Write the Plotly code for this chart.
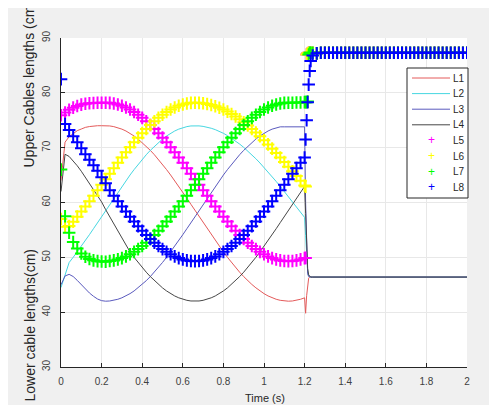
import plotly.graph_objects as go

# ---- time samples (s) ----
t_main = [0.00, 0.02, 0.04, 0.06, 0.08, 0.10, 0.12, 0.14, 0.16, 0.18,
          0.20, 0.22, 0.24, 0.26, 0.28, 0.30, 0.32, 0.34, 0.36, 0.38,
          0.40, 0.42, 0.44, 0.46, 0.48, 0.50, 0.52, 0.54, 0.56, 0.58,
          0.60, 0.62, 0.64, 0.66, 0.68, 0.70, 0.72, 0.74, 0.76, 0.78,
          0.80, 0.82, 0.84, 0.86, 0.88, 0.90, 0.92, 0.94, 0.96, 0.98,
          1.00, 1.02, 1.04, 1.06, 1.08, 1.10, 1.12, 1.14, 1.16, 1.18,
          1.20, 1.205, 1.21, 1.215, 1.22, 1.225, 1.23, 1.24]
t_hold = [1.26, 1.28, 1.30, 1.32, 1.34, 1.36, 1.38, 1.40, 1.42, 1.44,
          1.46, 1.48, 1.50, 1.52, 1.54, 1.56, 1.58, 1.60, 1.62, 1.64,
          1.66, 1.68, 1.70, 1.72, 1.74, 1.76, 1.78, 1.80, 1.82, 1.84,
          1.86, 1.88, 1.90, 1.92, 1.94, 1.96, 1.98, 2.00]

# ---- lower cables (cm), lines ----
L1 = [64.0, 71.0, 72.0, 72.6, 73.1, 73.4, 73.7, 73.85, 73.95, 74.0,
      74.0, 74.0, 73.96, 73.84, 73.65, 73.38, 73.04, 72.62, 72.13, 71.57,
      70.94, 70.26, 69.51, 68.71, 67.85, 66.95, 66.0, 65.01, 63.99, 62.94,
      61.87, 60.78, 59.67, 58.56, 57.44, 56.33, 55.22, 54.13, 53.06, 52.01,
      50.99, 50.0, 49.06, 48.15, 47.29, 46.49, 45.74, 45.06, 44.44, 43.87,
      43.38, 42.96, 42.62, 42.35, 42.16, 42.04, 42.0, 42.04, 42.16, 42.35,
      42.62, 39.8, 43.0, 45.5, 46.2, 46.4, 46.4, 46.4]
L2 = [44.5, 47.0, 49.05, 50.0, 50.99, 52.01, 53.06, 54.13, 55.22, 56.33,
      57.44, 58.56, 59.67, 60.78, 61.87, 62.94, 63.99, 65.01, 66.0, 66.95,
      67.85, 68.71, 69.51, 70.26, 70.94, 71.57, 72.13, 72.62, 73.04, 73.38,
      73.65, 73.84, 73.96, 74.0, 73.97, 73.88, 73.74, 73.54, 73.29, 72.98,
      72.62, 72.2, 71.73, 71.22, 70.66, 70.05, 69.4, 68.71, 67.98, 67.21,
      66.41, 65.58, 64.72, 63.84, 62.94, 62.03, 61.09, 60.15, 59.2, 58.24,
      57.28, 54.0, 50.5, 47.5, 46.6, 46.4, 46.4, 46.4]
L3 = [45.0, 46.6, 46.9, 46.5, 45.8, 45.0, 44.2, 43.5, 42.9, 42.4,
      42.1, 42.0, 42.04, 42.16, 42.35, 42.62, 42.96, 43.38, 43.87, 44.44,
      45.06, 45.74, 46.49, 47.29, 48.15, 49.06, 50.0, 50.99, 52.01, 53.06,
      54.13, 55.22, 56.33, 57.44, 58.56, 59.67, 60.78, 61.87, 62.94, 63.99,
      65.01, 66.0, 66.95, 67.85, 68.71, 69.51, 70.26, 70.94, 71.57, 72.13,
      72.62, 73.04, 73.38, 73.65, 73.8, 73.8, 73.8, 73.8, 73.8, 73.8,
      73.8, 60.0, 50.0, 47.0, 46.5, 46.4, 46.4, 46.4]
L4 = [62.0, 68.8, 68.4, 67.6, 66.7, 65.7, 64.6, 63.5, 62.4, 61.3,
      60.1, 58.7, 57.4, 56.1, 54.8, 53.4, 52.1, 50.99, 50.0, 49.05,
      48.15, 47.29, 46.49, 45.74, 45.06, 44.43, 43.87, 43.38, 42.96, 42.62,
      42.35, 42.16, 42.04, 42.0, 42.04, 42.16, 42.35, 42.62, 42.96, 43.38,
      43.87, 44.43, 45.06, 45.74, 46.49, 47.29, 48.15, 49.05, 50.0, 50.99,
      52.01, 53.06, 54.13, 55.22, 56.33, 57.44, 58.56, 59.67, 60.78, 61.87,
      62.94, 58.0, 52.0, 48.0, 46.8, 46.5, 46.4, 46.4]
lower_hold = [46.4, 46.4, 46.4, 46.4, 46.4, 46.4, 46.4, 46.4, 46.4, 46.4,
              46.4, 46.4, 46.4, 46.4, 46.4, 46.4, 46.4, 46.4, 46.4, 46.4,
              46.4, 46.4, 46.4, 46.4, 46.4, 46.4, 46.4, 46.4, 46.4, 46.4,
              46.4, 46.4, 46.4, 46.4, 46.4, 46.4, 46.4, 46.4]

# ---- upper cables (cm), '+' markers ----
L5 = [75.9, 76.4, 76.9, 77.3, 77.6, 77.85, 78.0, 78.1, 78.15, 78.2,
      78.2, 78.2, 78.17, 78.06, 77.88, 77.64, 77.33, 76.95, 76.51, 76.0,
      75.44, 74.82, 74.14, 73.42, 72.65, 71.83, 70.98, 70.09, 69.16, 68.22,
      67.25, 66.26, 65.26, 64.25, 63.25, 62.24, 61.24, 60.25, 59.28, 58.34,
      57.41, 56.52, 55.67, 54.85, 54.08, 53.36, 52.68, 52.06, 51.5, 51.0,
      50.55, 50.17, 49.86, 49.62, 49.44, 49.33, 49.3, 49.33, 49.44, 49.62,
      49.86, 49.9, 87.0, 87.2, 87.3, 87.3, 87.3, 87.3]
L6 = [57.0, 55.6, 55.7, 56.5, 57.42, 58.34, 59.28, 60.25, 61.24, 62.24,
      63.25, 64.25, 65.26, 66.26, 67.25, 68.22, 69.16, 70.09, 70.98, 71.83,
      72.65, 73.42, 74.14, 74.82, 75.44, 76.0, 76.51, 76.95, 77.33, 77.64,
      77.88, 78.06, 78.17, 78.2, 78.17, 78.1, 77.97, 77.79, 77.56, 77.28,
      76.95, 76.58, 76.15, 75.69, 75.18, 74.63, 74.04, 73.42, 72.76, 72.07,
      71.35, 70.6, 69.82, 69.03, 68.22, 67.39, 66.54, 65.69, 64.83, 63.97,
      63.1, 62.9, 87.0, 87.2, 87.3, 87.3, 87.3, 87.3]
L7 = [66.0, 57.5, 54.5, 52.8, 51.6, 50.7, 50.1, 49.7, 49.45, 49.3,
      49.25, 49.2, 49.33, 49.44, 49.62, 49.86, 50.17, 50.55, 51.0, 51.5,
      52.06, 52.68, 53.36, 54.08, 54.85, 55.67, 56.53, 57.42, 58.34, 59.28,
      60.25, 61.24, 62.24, 63.25, 64.25, 65.26, 66.26, 67.25, 68.22, 69.16,
      70.09, 70.98, 71.83, 72.65, 73.42, 74.14, 74.82, 75.44, 76.0, 76.51,
      76.95, 77.33, 77.64, 77.88, 78.06, 78.17, 78.2, 78.2, 78.25, 78.25,
      78.3, 78.3, 78.3, 78.4, 87.0, 87.3, 87.3, 87.3]
L8 = [82.5, 74.3, 73.2, 72.1, 71.0, 69.9, 68.8, 67.8, 66.8, 65.8,
      64.6, 63.5, 62.24, 61.24, 60.25, 59.28, 58.34, 57.42, 56.53, 55.67,
      54.85, 54.08, 53.36, 52.68, 52.06, 51.5, 51.0, 50.55, 50.17, 49.86,
      49.62, 49.44, 49.33, 49.3, 49.33, 49.44, 49.62, 49.86, 50.17, 50.55,
      51.0, 51.5, 52.06, 52.68, 53.36, 54.08, 54.85, 55.67, 56.53, 57.42,
      58.34, 59.28, 60.25, 61.24, 62.24, 63.25, 64.25, 65.26, 66.26, 67.25,
      68.22, 71.5, 75.0, 78.3, 81.5, 84.0, 85.8, 86.8]
upper_hold = [87.2, 87.3, 87.3, 87.3, 87.3, 87.3, 87.3, 87.3, 87.3, 87.3,
              87.3, 87.3, 87.3, 87.3, 87.3, 87.3, 87.3, 87.3, 87.3, 87.3,
              87.3, 87.3, 87.3, 87.3, 87.3, 87.3, 87.3, 87.3, 87.3, 87.3,
              87.3, 87.3, 87.3, 87.3, 87.3, 87.3, 87.3, 87.3]

x_ticks = [0, 0.2, 0.4, 0.6, 0.8, 1, 1.2, 1.4, 1.6, 1.8, 2]
x_tick_labels = ["0", "0.2", "0.4", "0.6", "0.8", "1", "1.2", "1.4", "1.6", "1.8", "2"]
y_ticks = [30, 40, 50, 60, 70, 80, 90]

for s in (L1, L2, L3, L4, L5, L6, L7, L8):
    assert len(s) == len(t_main), len(s)
assert len(upper_hold) == len(t_hold) and len(lower_hold) == len(t_hold)

time = t_main + t_hold

FONT = "Liberation Sans, Arial, sans-serif"
fig = go.Figure()

line_series = [("L1", L1, "rgb(228,90,90)"),
               ("L2", L2, "rgb(70,215,225)"),
               ("L3", L3, "rgb(90,90,190)"),
               ("L4", L4, "rgb(70,70,70)")]
for name, vals, col in line_series:
    fig.add_trace(go.Scatter(x=time, y=vals + lower_hold, mode="lines", name=name,
                             showlegend=False, line=dict(color=col, width=1)))

marker_series = [("L5", L5, "#ff00ff"),
                 ("L6", L6, "#ffff00"),
                 ("L7", L7, "#00ff00"),
                 ("L8", L8, "#0000ff")]
for name, vals, col in marker_series:
    fig.add_trace(go.Scatter(x=time, y=vals + upper_hold, mode="markers", name=name,
                             showlegend=False,
                             marker=dict(symbol="cross-thin", size=9, color=col,
                                         line=dict(color=col, width=2.0))))

# The page body adds an 8 px offset; figure is sized so the window is filled.
OFF = 8
WIN_W, WIN_H = 497, 405
PLOT_X0, PLOT_X1, PLOT_Y0, PLOT_Y1 = 61, 467, 38, 367   # window pixels
W, H = WIN_W - OFF, WIN_H - OFF
L, T = PLOT_X0 - OFF, PLOT_Y0 - OFF
R, B = WIN_W - PLOT_X1, WIN_H - PLOT_Y1
pw, ph = PLOT_X1 - PLOT_X0, PLOT_Y1 - PLOT_Y0

def px(xp):
    return (xp - PLOT_X0) / pw

def py(yp):
    return (PLOT_Y1 - yp) / ph

shapes = [
    dict(type="rect", xref="paper", yref="paper", x0=px(407), x1=px(468),
         y0=py(198), y1=py(68), fillcolor="white",
         line=dict(color="#262626", width=1), layer="above"),
]
annotations = [
    dict(text="Upper Cables lengths (cm)", xref="paper", yref="paper",
         x=px(29), y=py(170), xanchor="center", yanchor="bottom", textangle=-90,
         showarrow=False, font=dict(size=14, color="#262626", family=FONT)),
    dict(text="Lower cable lengths(cm)", xref="paper", yref="paper",
         x=px(29), y=py(247), xanchor="center", yanchor="top", textangle=-90,
         showarrow=False, font=dict(size=14, color="#262626", family=FONT)),
    dict(text="Time (s)", xref="paper", yref="paper",
         x=px(265), y=py(398), xanchor="center", yanchor="middle",
         showarrow=False, font=dict(size=11, color="#262626", family=FONT)),
]

row0, pitch = 78.0, 15.6
for k, (name, _, col) in enumerate(line_series):
    yy = py(row0 + k * pitch)
    shapes.append(dict(type="line", xref="paper", yref="paper", x0=px(412), x1=px(450),
                       y0=yy, y1=yy, line=dict(color=col, width=1), layer="above"))
    annotations.append(dict(text=name, xref="paper", yref="paper", x=px(467), y=yy,
                            xanchor="right", yanchor="middle", showarrow=False,
                            font=dict(size=10, color="#262626", family=FONT)))
for k, (name, _, col) in enumerate(marker_series):
    yy = py(row0 + (k + 4) * pitch)
    annotations.append(dict(text="+", xref="paper", yref="paper", x=px(431), y=yy,
                            xanchor="center", yanchor="middle", showarrow=False,
                            font=dict(size=12, color=col, family=FONT)))
    annotations.append(dict(text=name, xref="paper", yref="paper", x=px(467), y=yy,
                            xanchor="right", yanchor="middle", showarrow=False,
                            font=dict(size=10, color="#262626", family=FONT)))

fig.update_layout(
    width=W, height=H,
    margin=dict(l=L, r=R, t=T, b=B, pad=0),
    paper_bgcolor="#f0f0f0",
    plot_bgcolor="white",
    font=dict(family=FONT, size=10, color="#404040"),
    showlegend=False,
    xaxis=dict(range=[0, 2], tickmode="array", tickvals=x_ticks, ticktext=x_tick_labels,
               showgrid=True, gridcolor="#e8e8e8", gridwidth=1, zeroline=False,
               showline=True, linecolor="#262626", linewidth=1, automargin=False,
               ticks="inside", ticklen=4, tickcolor="#262626", ticklabelstandoff=5,
               tickfont=dict(size=10, color="#404040")),
    yaxis=dict(range=[30, 90], tickmode="array", tickvals=y_ticks,
               showgrid=True, gridcolor="#e8e8e8", gridwidth=1, zeroline=False,
               showline=True, linecolor="#262626", linewidth=1, automargin=False,
               ticks="inside", ticklen=4, tickcolor="#262626", tickangle=-90,
               ticklabelstandoff=6, tickfont=dict(size=10, color="#404040")),
    shapes=shapes,
    annotations=annotations,
)

fig.write_html("out.html")
